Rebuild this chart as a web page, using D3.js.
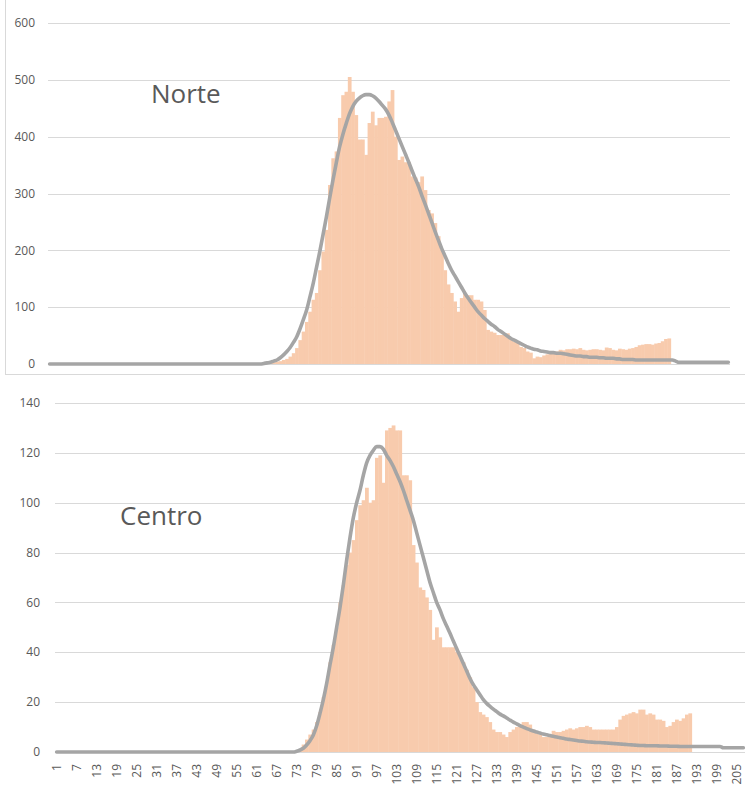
<!DOCTYPE html>
<html><head><meta charset="utf-8">
<script src="https://cdn.jsdelivr.net/npm/d3@7"></script>
<style>body{margin:0;background:#fff}</style>
</head><body>
<svg id="c" width="745" height="787"></svg>
<script>
// ---------- DATA ----------
const days = d3.range(1, 208); // categories 1..207

const norteBarStart = 67;
const norteBars = [
  1,2,3,4,5,7,9,13,19,28,
  42,57,74,92,113,125,165,198,236,315,
  362,374,433,473,479,505,479,438,395,395,
  368,424,444,420,433,433,435,462,482,400,
  359,365,355,355,330,328,320,330,306,271,
  265,248,225,201,165,140,125,110,92,116,
  125,121,121,113,113,110,95,60,57,55,
  51,51,51,54,45,39,39,30,28,22,
  20,10,13,12,15,17,19,20,22,25,
  24,26,26,27,26,28,25,24,25,26,
  26,25,24,29,28,25,24,27,26,25,
  27,28,30,33,34,35,35,34,36,37,
  40,44,45
];
const norteLineStart = 66;
const norteLine = [
  1,2,3,5,7,11,16,22,29,38,
  48,62,78,95,118,142,170,198,228,259,
  292,324,354,382,404,423,440,453,462,468,
  472,474,474,472,468,462,455,448,438,425,
  411,397,383,369,355,340,326,312,296,281,
  265,249,233,218,203,190,177,165,155,145,
  135,125,116,108,100,92,86,80,75,70,
  66,61,57,53,49,45,42,39,36,33,
  30,28,26,25,23,22,21,20,20,19,
  19,18,17,16,15,14,14,13,13,12,
  12,12,11,11,10,10,10,9,9,8,
  8,8,8,7,7,7,7,7,7,7,
  7,7,7,7,7,5,3,3,3,3,
  3,3,3,3,3,3,3,3,3,3,3,3
];

const centroBarStart = 74;
const centroBars = [
  1,3,5,7,9,12,16,22,28,36,
  43,50,60,67,75,80,85,93,99,101,
  106,100,101,118,119,108,129,130,131,129,
  129,111,111,109,83,76,66,65,62,57,
  45,50,46,42,42,42,42,40,38,36,
  33,30,26,20,16,15,14,12,9,8,
  8,7,6,8,9,10,11,12,12,11,
  9,7.5,7,6,6,7,8.5,8,8,8.5,
  9,9.5,9,9.5,10,10,10.5,10,9,9,
  9,9,9,9,9,10,13,14.5,15,15.5,
  16,15.5,17,17,15,15.5,15,13,13,12.5,
  10,10.5,12,13,12.5,13.5,15,15.5
];
const centroLineStart = 73;
const centroLine = [
  0.3,0.8,1.5,2.8,4.5,6.8,10.5,15.5,21,27.5,
  35,42,50,58,67,77,86,94,100,105,
  111,116,119,121,122.5,122.5,121.5,119,117,114.5,
  111.5,108.5,105,101,97,93,88,83,78,73,
  68,64,60,57,53.5,50.5,47.6,44.5,41.5,38.5,
  35.5,32.5,29.5,27,25,23,21,19.5,18.3,17.2,
  16.2,15.2,14.5,13.6,12.8,12,11.3,10.6,10,9.4,
  8.9,8.4,8,7.6,7.2,6.9,6.6,6.3,6.0,5.7,
  5.5,5.2,5.0,4.8,4.6,4.4,4.3,4.1,4.0,3.9,
  3.8,3.8,3.7,3.6,3.5,3.4,3.3,3.2,3.1,3.0,
  2.9,2.8,2.7,2.6,2.6,2.5,2.5,2.5,2.5,2.4,
  2.4,2.4,2.3,2.3,2.3,2.2,2.2,2.2,2.2,2.2,
  2.2,2.2,2.2,2.2,2.2,2.2,2.2,2.2,1.7,1.7,
  1.7,1.7,1.7,1.7,1.7
];

const norteTicks = [0,100,200,300,400,500,600];
const centroTicks = [0,20,40,60,80,100,120,140];
const xTickLabels = [1,7,13,19,25,31,37,43,49,55,61,67,73,79,85,91,97,103,109,115,121,127,133,139,145,151,157,163,169,175,181,187,193,199,205];

// ---------- DRAW ----------
function series(start, vals) {
  return days.map(d => { const i = d - start; return (i >= 0 && i < vals.length) ? vals[i] : 0; });
}

const svg = d3.select("#c");
const FONT = "'Open Sans', 'Noto Sans', 'Liberation Sans', sans-serif";
const TXT = "#595959", GRID = "#d9d9d9", BAR = "#f8cbad", LINE = "#a5a5a5";

// frame of upper chart
svg.append("line").attr("x1",5.5).attr("x2",5.5).attr("y1",0).attr("y2",374.5).attr("stroke",GRID);
svg.append("line").attr("x1",5).attr("x2",745).attr("y1",374.5).attr("y2",374.5).attr("stroke",GRID);

function panel(cfg) {
  const x = d3.scaleBand().domain(days).range(cfg.xr).padding(0);
  const y = d3.scaleLinear().domain([0, cfg.max]).range(cfg.yr);
  const g = svg.append("g");

  // gridlines
  g.selectAll(".grid").data(cfg.ticks).join("line")
    .attr("x1", cfg.xr[0]).attr("x2", cfg.gridEnd)
    .attr("y1", d => Math.round(y(d)) + 0.5).attr("y2", d => Math.round(y(d)) + 0.5)
    .attr("stroke", GRID).attr("stroke-width", 1);

  // y labels
  g.selectAll(".yl").data(cfg.ticks).join("text")
    .attr("x", cfg.labelX).attr("y", d => y(d)).attr("dy", "0.35em")
    .attr("text-anchor", "end").attr("font-family", FONT).attr("font-size", 12)
    .attr("fill", TXT).text(d => d);

  // bars
  const bars = series(cfg.barStart, cfg.bars);
  g.selectAll(".bar").data(days.filter((d, i) => bars[i] > 0)).join("rect")
    .attr("x", d => x(d)).attr("width", x.bandwidth() + 0.45)
    .attr("y", d => y(bars[d - 1])).attr("height", d => y(0) - y(bars[d - 1]))
    .attr("fill", BAR);

  // line
  const lv = series(cfg.lineStart, cfg.line);
  const line = d3.line().x(d => x(d) + x.bandwidth() / 2).y(d => y(lv[d - 1])).curve(d3.curveMonotoneX);
  g.append("path").datum(days).attr("d", line).attr("fill", "none")
    .attr("stroke", LINE).attr("stroke-width", 3.6)
    .attr("stroke-linejoin", "round").attr("stroke-linecap", "round");

  // title label
  g.append("text").attr("x", cfg.title[1]).attr("y", cfg.title[2])
    .attr("font-family", FONT).attr("font-size", 26).attr("fill", TXT).text(cfg.title[0]);

  // x labels
  if (cfg.xLabels) {
    g.selectAll(".xl").data(xTickLabels).join("text")
      .attr("transform", d => `translate(${x(d) + x.bandwidth() / 2},${cfg.yr[0] + 12}) rotate(-90)`)
      .attr("dy", "0.35em").attr("text-anchor", "end")
      .attr("font-family", FONT).attr("font-size", 12).attr("fill", TXT).text(d => d);
  }
}

panel({ xr: [48, 730], gridEnd: 730, yr: [364, 23], max: 600, ticks: norteTicks, labelX: 35,
  bars: norteBars, barStart: norteBarStart, line: norteLine, lineStart: norteLineStart,
  title: ["Norte", 151, 103], xLabels: false });

panel({ xr: [55, 745], gridEnd: 745, yr: [752, 403], max: 140, ticks: centroTicks, labelX: 40,
  bars: centroBars, barStart: centroBarStart, line: centroLine, lineStart: centroLineStart,
  title: ["Centro", 120, 525], xLabels: true });
</script>
</body></html>
